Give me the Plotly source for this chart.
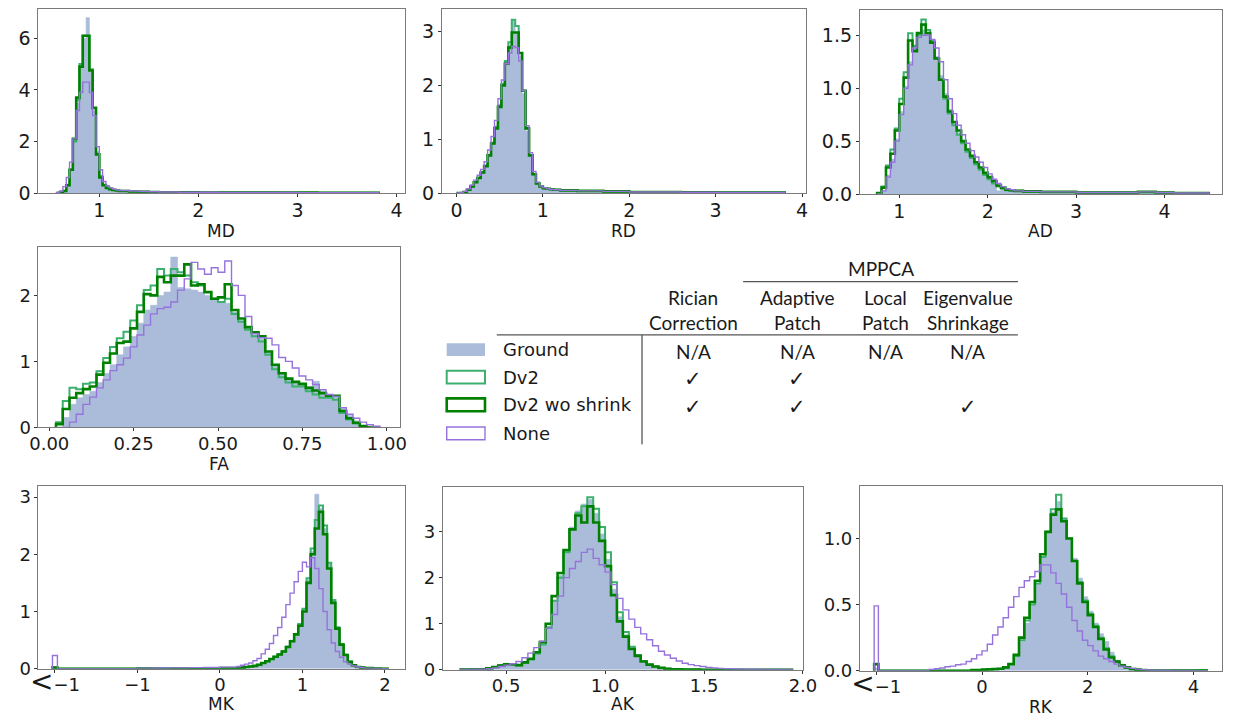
import plotly.graph_objects as go

# ---------------------------------------------------------------------------
# Histogram data (density).  Each panel has its own bin edges; every series
# list holds one density value per bin.
# ---------------------------------------------------------------------------
SERIES = ["Ground", "Dv2", "Dv2 wo shrink", "None"]

# ---- MD ----
md_edges = [0.567, 0.6, 0.633, 0.667, 0.7, 0.733, 0.767, 0.8, 0.833, 0.867, 0.9,
            0.933, 0.967, 1.0, 1.033, 1.067, 1.1, 1.133, 1.167, 1.2, 1.3, 1.4, 1.5,
            1.6, 1.8, 2.0, 2.2, 2.4, 2.6, 2.8, 3.0, 3.2, 3.4, 3.6, 3.82]
md_ground = [0, 0.03, 0.1, 0.35, 0.95, 2.0, 3.5, 4.9, 6.0, 6.8, 4.7, 3.2, 1.6, 0.7,
             0.35, 0.22, 0.16, 0.12, 0.1, 0.08, 0.06, 0.05, 0.04, 0.03, 0.03, 0.02,
             0.02, 0.02, 0.02, 0.015, 0.015, 0.01, 0.01, 0.01]
md_dv2 = [0, 0.02, 0.08, 0.3, 0.9, 2.0, 3.6, 5.0, 6.1, 6.1, 4.8, 3.3, 1.5, 0.65,
          0.32, 0.2, 0.15, 0.12, 0.1, 0.08, 0.06, 0.05, 0.04, 0.03, 0.03, 0.02,
          0.02, 0.02, 0.02, 0.015, 0.015, 0.01, 0.01, 0.01]
md_dv2_noshrink = [0, 0.02, 0.08, 0.3, 0.9, 2.1, 3.7, 4.9, 6.1, 6.1, 4.75, 3.3, 1.5,
                   0.6, 0.3, 0.2, 0.15, 0.12, 0.1, 0.08, 0.06, 0.05, 0.04, 0.03,
                   0.03, 0.02, 0.02, 0.02, 0.02, 0.015, 0.015, 0.01, 0.01, 0.01]
md_none = [0.02, 0.08, 0.25, 0.6, 1.2, 2.1, 3.2, 3.9, 4.3, 4.3, 3.9, 3.0, 1.8, 0.9,
           0.45, 0.28, 0.2, 0.15, 0.12, 0.1, 0.08, 0.06, 0.05, 0.04, 0.03, 0.03,
           0.02, 0.02, 0.02, 0.02, 0.015, 0.015, 0.01, 0.01]

# ---- RD ----
rd_edges = [0.0, 0.04, 0.08, 0.12, 0.16, 0.2, 0.24, 0.28, 0.32, 0.36, 0.4, 0.44,
            0.48, 0.52, 0.56, 0.6, 0.64, 0.68, 0.72, 0.76, 0.8, 0.84, 0.88, 0.92,
            0.96, 1.0, 1.04, 1.08, 1.12, 1.16, 1.2, 1.3, 1.4, 1.5, 1.6, 1.7, 1.8,
            1.9, 2.0, 2.2, 2.4, 2.6, 2.8, 3.0, 3.2, 3.4, 3.6, 3.8]
rd_ground = [0, 0, 0.02, 0.07, 0.14, 0.22, 0.3, 0.4, 0.52, 0.72, 0.95, 1.25, 1.65,
             2.05, 2.45, 2.75, 3.2, 3.0, 2.55, 1.85, 1.15, 0.68, 0.34, 0.17, 0.12,
             0.09, 0.08, 0.07, 0.06, 0.06,
             0.05, 0.05, 0.04, 0.04, 0.04, 0.03, 0.03, 0.03,
             0.02, 0.02, 0.02, 0.015, 0.015, 0.01, 0.01, 0.01, 0.01]
rd_dv2 = [0, 0, 0.02, 0.06, 0.12, 0.2, 0.28, 0.38, 0.5, 0.7, 0.93, 1.22, 1.62,
          2.02, 2.45, 2.8, 3.22, 3.1, 2.6, 1.9, 1.2, 0.7, 0.35, 0.18, 0.12, 0.09,
          0.08, 0.07, 0.06, 0.06,
          0.05, 0.05, 0.04, 0.04, 0.04, 0.03, 0.03, 0.03,
          0.02, 0.02, 0.02, 0.015, 0.015, 0.01, 0.01, 0.01, 0.01]
rd_dv2_noshrink = [0, 0, 0.02, 0.06, 0.12, 0.2, 0.28, 0.38, 0.5, 0.7, 0.92, 1.2,
                   1.6, 2.0, 2.4, 2.7, 2.98, 2.98, 2.6, 1.9, 1.2, 0.7, 0.35, 0.18,
                   0.12, 0.09, 0.08, 0.07, 0.06, 0.06,
                   0.05, 0.05, 0.04, 0.04, 0.04, 0.03, 0.03, 0.03,
                   0.02, 0.02, 0.02, 0.015, 0.015, 0.01, 0.01, 0.01, 0.01]
rd_none = [0, 0.01, 0.03, 0.08, 0.15, 0.24, 0.33, 0.44, 0.58, 0.8, 1.05, 1.35,
           1.75, 2.1, 2.4, 2.6, 2.72, 2.7, 2.45, 1.9, 1.25, 0.75, 0.4, 0.2, 0.13,
           0.1, 0.08, 0.07, 0.06, 0.06,
           0.05, 0.05, 0.04, 0.04, 0.04, 0.03, 0.03, 0.03,
           0.02, 0.02, 0.02, 0.015, 0.015, 0.01, 0.01, 0.01, 0.01]

# ---- AD ----
ad_edges = [0.75, 0.8, 0.85, 0.9, 0.95, 1.0, 1.05, 1.1, 1.15, 1.2, 1.25, 1.3, 1.35,
            1.4, 1.45, 1.5, 1.55, 1.6, 1.65, 1.7, 1.75, 1.8, 1.85, 1.9, 1.95, 2.0,
            2.05, 2.1, 2.15, 2.2, 2.25, 2.3, 2.4, 2.5, 2.6, 2.7, 2.8, 2.9, 3.0, 3.1,
            3.3, 3.5, 3.7, 3.9, 4.1, 4.3, 4.5]
ad_ground = [0.0, 0.03, 0.18, 0.33, 0.52, 0.78, 1.02, 1.25, 1.4, 1.5, 1.55, 1.5,
             1.42, 1.3, 1.12, 0.95, 0.8, 0.68, 0.58, 0.5, 0.42, 0.36, 0.3, 0.25,
             0.2, 0.15, 0.1, 0.03, 0.04, 0.03, 0.03,
             0.03, 0.025, 0.025, 0.02, 0.02, 0.02, 0.02, 0.015,
             0.015, 0.015, 0.015, 0.02, 0.015, 0.01, 0.01]
ad_dv2 = [0.01, 0.07, 0.27, 0.42, 0.62, 0.9, 1.15, 1.52, 1.4, 1.5, 1.65, 1.55,
          1.45, 1.28, 1.08, 0.9, 0.76, 0.65, 0.56, 0.48, 0.4, 0.34, 0.28, 0.23,
          0.18, 0.14, 0.1, 0.07, 0.05, 0.035, 0.03,
          0.03, 0.025, 0.025, 0.02, 0.02, 0.02, 0.02, 0.015,
          0.015, 0.015, 0.015, 0.02, 0.015, 0.01, 0.01]
ad_dv2_noshrink = [0.01, 0.06, 0.25, 0.38, 0.6, 0.85, 1.1, 1.45, 1.35, 1.52, 1.6,
                   1.52, 1.43, 1.28, 1.08, 0.92, 0.78, 0.68, 0.6, 0.5, 0.42, 0.36,
                   0.3, 0.25, 0.2, 0.16, 0.12, 0.08, 0.06, 0.04, 0.035,
                   0.03, 0.025, 0.025, 0.02, 0.02, 0.02, 0.02, 0.015,
                   0.015, 0.015, 0.015, 0.02, 0.015, 0.01, 0.01]
ad_none = [0.0, 0.03, 0.16, 0.3, 0.5, 0.75, 1.0, 1.22, 1.38, 1.48, 1.5, 1.5, 1.46,
           1.38, 1.25, 1.08, 0.9, 0.76, 0.65, 0.56, 0.48, 0.41, 0.35, 0.3, 0.25,
           0.19, 0.14, 0.1, 0.07, 0.05, 0.04,
           0.03, 0.025, 0.025, 0.02, 0.02, 0.02, 0.02, 0.015,
           0.015, 0.015, 0.015, 0.02, 0.015, 0.01, 0.01]

# ---- FA ----
fa_edges = [0.02, 0.04, 0.06, 0.08, 0.10, 0.12, 0.14, 0.16, 0.18, 0.20, 0.22, 0.24,
            0.26, 0.28, 0.30, 0.32, 0.34, 0.36, 0.38, 0.40, 0.42, 0.44, 0.46, 0.48,
            0.50, 0.52, 0.54, 0.56, 0.58, 0.60, 0.62, 0.64, 0.66, 0.68, 0.70, 0.72,
            0.74, 0.76, 0.78, 0.80, 0.82, 0.84, 0.86, 0.88, 0.90, 0.92, 0.94, 0.96,
            0.98]
fa_ground = [0.0, 0.15, 0.35, 0.45, 0.5, 0.55, 0.68, 0.82, 0.95, 1.1, 1.22, 1.38,
             1.58, 1.78, 1.85, 2.0, 2.05, 2.58, 2.12, 2.1, 2.08, 2.05, 2.0, 1.95,
             1.9, 1.88, 1.75, 1.62, 1.52, 1.4, 1.35, 1.15, 0.95, 0.82, 0.75, 0.7,
             0.66, 0.62, 0.7, 0.55, 0.5, 0.48, 0.3, 0.18, 0.1, 0.03, 0.0, 0.0]
fa_dv2 = [0.08, 0.4, 0.6, 0.58, 0.66, 0.68, 0.85, 1.05, 1.22, 1.35, 1.45, 1.62,
          1.85, 2.08, 2.15, 2.4, 2.3, 2.4, 2.35, 2.3, 2.2, 2.15, 2.05, 1.95, 1.9,
          1.95, 1.72, 1.6, 1.48, 1.38, 1.3, 1.1, 0.88, 0.76, 0.68, 0.62, 0.62, 0.55,
          0.5, 0.45, 0.45, 0.42, 0.22, 0.12, 0.06, 0.02, 0.0, 0.0]
fa_dv2_noshrink = [0.05, 0.28, 0.45, 0.52, 0.58, 0.62, 0.8, 0.98, 1.12, 1.28, 1.3,
                   1.5, 1.75, 2.02, 2.0, 2.28, 2.2, 2.3, 2.3, 2.47, 2.15, 2.17, 2.05,
                   1.95, 1.97, 2.17, 1.78, 1.65, 1.52, 1.44, 1.38, 1.15, 0.95, 0.82,
                   0.74, 0.69, 0.66, 0.6, 0.56, 0.52, 0.48, 0.48, 0.25, 0.14, 0.07,
                   0.02, 0.0, 0.0]
fa_none = [0.0, 0.0, 0.08, 0.2, 0.35, 0.46, 0.6, 0.72, 0.86, 0.95, 1.05, 1.22, 1.4,
           1.55, 1.72, 1.8, 1.82, 1.9, 2.08, 2.25, 2.5, 2.4, 2.32, 2.42, 2.35, 2.52,
           2.15, 2.0, 1.68, 1.42, 1.36, 1.35, 1.25, 1.06, 1.0, 0.9, 0.78, 0.72,
           0.65, 0.57, 0.5, 0.47, 0.3, 0.2, 0.14, 0.08, 0.04, 0.02]

# ---- MK (values below -1 are gathered into one bin drawn at -2) ----
mk_edges = [-2.03, -1.97, -1.0, -0.8, -0.6, -0.4, -0.2, 0.0, 0.2, 0.25, 0.3, 0.35,
            0.4, 0.45, 0.5, 0.55, 0.6, 0.65, 0.7, 0.75, 0.8, 0.85, 0.9, 0.95, 1.0,
            1.05, 1.1, 1.15, 1.2, 1.25, 1.3, 1.35, 1.4, 1.45, 1.5, 1.55, 1.6, 1.65,
            1.7, 1.75, 1.8, 1.85, 1.9, 1.95, 2.0, 2.05]
mk_ground = [0.0, 0.0, 0.005, 0.005, 0.005, 0.008, 0.008, 0.01,
             0.01, 0.02, 0.03, 0.04, 0.05, 0.07, 0.1, 0.13, 0.17, 0.21, 0.26, 0.31,
             0.4, 0.5, 0.62, 0.78, 1.05, 1.55, 2.05, 3.05, 2.8, 2.45, 1.85, 1.2,
             0.74, 0.45, 0.26, 0.13, 0.07, 0.04, 0.02, 0.01, 0.01, 0.005, 0.005,
             0.0, 0.0]
mk_dv2 = [0.02, 0.0, 0.005, 0.005, 0.005, 0.008, 0.008, 0.01,
          0.01, 0.02, 0.03, 0.04, 0.05, 0.07, 0.1, 0.13, 0.17, 0.21, 0.25, 0.3,
          0.38, 0.48, 0.6, 0.78, 1.05, 1.58, 2.1, 2.6, 2.85, 2.5, 1.85, 1.2, 0.72,
          0.43, 0.24, 0.12, 0.06, 0.03, 0.02, 0.01, 0.01, 0.005, 0.005, 0.0, 0.0]
mk_dv2_noshrink = [0.02, 0.0, 0.005, 0.005, 0.005, 0.008, 0.008, 0.01,
                   0.01, 0.02, 0.03, 0.04, 0.05, 0.07, 0.1, 0.13, 0.17, 0.21, 0.25,
                   0.3, 0.38, 0.48, 0.6, 0.75, 1.0, 1.5, 2.0, 2.45, 2.74, 2.35,
                   1.75, 1.15, 0.7, 0.42, 0.24, 0.12, 0.06, 0.03, 0.02, 0.01, 0.01,
                   0.005, 0.005, 0.0, 0.0]
mk_none = [0.23, 0.0, 0.01, 0.012, 0.015, 0.02, 0.022, 0.028,
           0.04, 0.06, 0.08, 0.1, 0.14, 0.18, 0.26, 0.34, 0.44, 0.58, 0.72, 0.9,
           1.12, 1.32, 1.52, 1.7, 1.86, 1.78, 1.94, 1.75, 1.4, 1.0, 0.68, 0.45,
           0.3, 0.2, 0.12, 0.08, 0.05, 0.03, 0.02, 0.01, 0.01, 0.005, 0.005, 0.0,
           0.0]

# ---- AK ----
ak_edges = [0.27, 0.33, 0.4, 0.43, 0.46, 0.49, 0.52, 0.55, 0.58, 0.61, 0.64, 0.67,
            0.7, 0.73, 0.76, 0.79, 0.82, 0.85, 0.88, 0.91, 0.94, 0.97, 1.0, 1.03,
            1.06, 1.09, 1.12, 1.15, 1.18, 1.21, 1.24, 1.27, 1.3, 1.33, 1.36, 1.39,
            1.42, 1.45, 1.48, 1.51, 1.54, 1.57, 1.6, 1.65, 1.7, 1.75, 1.8, 1.85,
            1.9, 1.95]
ak_ground = [0.005, 0.01,
             0.02, 0.05, 0.08, 0.1, 0.1, 0.1, 0.14, 0.22, 0.34, 0.55, 0.95, 1.5,
             2.05, 2.6, 3.1, 3.45, 3.6, 3.7, 3.4, 2.95, 2.4, 1.75, 1.15, 0.76, 0.47,
             0.3, 0.18, 0.1, 0.06, 0.04, 0.02, 0.01, 0.01, 0.005, 0.005, 0, 0, 0,
             0, 0,
             0, 0, 0, 0, 0, 0, 0]
ak_dv2 = [0.005, 0.01,
          0.03, 0.06, 0.1, 0.12, 0.11, 0.1, 0.15, 0.22, 0.35, 0.55, 0.92, 1.5, 2.0,
          2.55, 3.05, 3.4, 3.55, 3.75, 3.5, 3.1, 2.55, 1.9, 1.25, 0.82, 0.5, 0.32,
          0.19, 0.11, 0.07, 0.04, 0.02, 0.01, 0.01, 0.005, 0.005, 0.005, 0, 0, 0,
          0,
          0.005, 0, 0, 0, 0, 0, 0]
ak_dv2_noshrink = [0.005, 0.01,
                   0.03, 0.06, 0.09, 0.12, 0.12, 0.1, 0.16, 0.24, 0.38, 0.6, 1.0,
                   1.6, 2.1, 2.6, 3.05, 3.35, 3.2, 3.55, 3.2, 2.8, 2.25, 1.62, 1.05,
                   0.72, 0.45, 0.3, 0.18, 0.11, 0.07, 0.04, 0.02, 0.01, 0.01,
                   0.005, 0.005, 0.005, 0, 0, 0, 0,
                   0.005, 0, 0, 0, 0, 0, 0]
ak_none = [0.005, 0.01,
           0.02, 0.04, 0.07, 0.1, 0.13, 0.18, 0.26, 0.36, 0.48, 0.62, 0.9, 1.2,
           1.6, 2.0, 2.2, 2.35, 2.55, 2.62, 2.42, 2.28, 2.12, 1.85, 1.55, 1.3, 1.1,
           0.92, 0.78, 0.65, 0.52, 0.4, 0.32, 0.25, 0.19, 0.14, 0.11, 0.09, 0.07,
           0.05, 0.04, 0.03,
           0.02, 0.015, 0.01, 0.01, 0.005, 0.005, 0.005]

# ---- RK (values below -1 are gathered into one bin drawn at -2) ----
rk_edges = [-2.04, -1.96, -1.0, -0.9, -0.8, -0.7, -0.6, -0.5, -0.4, -0.3, -0.2,
            -0.1, 0.0, 0.1, 0.2, 0.3, 0.4, 0.5, 0.6, 0.7, 0.8, 0.9, 1.0, 1.1, 1.2,
            1.3, 1.4, 1.5, 1.6, 1.7, 1.8, 1.9, 2.0, 2.1, 2.2, 2.3, 2.4, 2.5, 2.6,
            2.7, 2.8, 2.9, 3.0, 3.1, 3.2, 3.6, 4.0, 4.25]
rk_ground = [0.02, 0.0,
             0, 0, 0, 0, 0, 0, 0, 0, 0, 0, 0.005, 0.008, 0.01, 0.015, 0.02, 0.04,
             0.1, 0.22, 0.36, 0.5, 0.66, 0.86, 1.05, 1.2, 1.28, 1.15, 1.0, 0.85,
             0.7, 0.56, 0.45, 0.36, 0.28, 0.22, 0.14, 0.08, 0.05, 0.03, 0.015,
             0.01, 0.005, 0.003,
             0.002, 0.002, 0.001]
rk_dv2 = [0.05, 0.0,
          0, 0, 0, 0, 0, 0, 0, 0, 0.005, 0.005, 0.008, 0.01, 0.012, 0.015, 0.025,
          0.05, 0.11, 0.23, 0.38, 0.5, 0.66, 0.86, 1.05, 1.22, 1.33, 1.15, 1.0,
          0.83, 0.67, 0.53, 0.43, 0.34, 0.25, 0.17, 0.11, 0.07, 0.04, 0.025,
          0.012, 0.008, 0.005, 0.003,
          0.002, 0.001, 0.001]
rk_dv2_noshrink = [0.05, 0.0,
                   0, 0, 0, 0, 0, 0, 0, 0, 0.005, 0.005, 0.008, 0.01, 0.012,
                   0.015, 0.025, 0.05, 0.12, 0.25, 0.4, 0.52, 0.68, 0.88, 1.05,
                   1.18, 1.22, 1.13, 1.0, 0.83, 0.66, 0.52, 0.42, 0.33, 0.24, 0.16,
                   0.1, 0.07, 0.04, 0.025, 0.012, 0.008, 0.005, 0.003,
                   0.002, 0.001, 0.001]
rk_none = [0.49, 0.0,
           0.01, 0.015, 0.02, 0.03, 0.035, 0.045, 0.05, 0.07, 0.09, 0.12, 0.15,
           0.2, 0.27, 0.33, 0.4, 0.48, 0.56, 0.63, 0.68, 0.71, 0.75, 0.8, 0.8,
           0.74, 0.66, 0.58, 0.48, 0.38, 0.3, 0.23, 0.19, 0.15, 0.11, 0.09, 0.07,
           0.05, 0.035, 0.025, 0.018, 0.012, 0.008, 0.005,
           0.003, 0.002, 0.001]

# ---- tick labels ----
md_xticks, md_xlabels = [1, 2, 3, 4], ["1", "2", "3", "4"]
md_yticks, md_ylabels = [0, 2, 4, 6], ["0", "2", "4", "6"]
rd_xticks, rd_xlabels = [0, 1, 2, 3, 4], ["0", "1", "2", "3", "4"]
rd_yticks, rd_ylabels = [0, 1, 2, 3], ["0", "1", "2", "3"]
ad_xticks, ad_xlabels = [1, 2, 3, 4], ["1", "2", "3", "4"]
ad_yticks, ad_ylabels = [0, 0.5, 1.0, 1.5], ["0.0", "0.5", "1.0", "1.5"]
fa_xticks, fa_xlabels = [0, 0.25, 0.5, 0.75, 1.0], ["0.00", "0.25", "0.50", "0.75", "1.00"]
fa_yticks, fa_ylabels = [0, 1, 2], ["0", "1", "2"]
LESS_THAN_MINUS_ONE = '<span style="font-size:28px">&lt;</span>\u22121'
mk_xticks, mk_xlabels = [-2, -1, 0, 1, 2], [LESS_THAN_MINUS_ONE, "\u22121", "0", "1", "2"]
mk_yticks, mk_ylabels = [0, 1, 2, 3], ["0", "1", "2", "3"]
ak_xticks, ak_xlabels = [0.5, 1.0, 1.5, 2.0], ["0.5", "1.0", "1.5", "2.0"]
ak_yticks, ak_ylabels = [0, 1, 2, 3], ["0", "1", "2", "3"]
rk_xticks, rk_xlabels = [-2, 0, 2, 4], [LESS_THAN_MINUS_ONE, "0", "2", "4"]
rk_yticks, rk_ylabels = [0, 0.5, 1.0], ["0.0", "0.5", "1.0"]

# ---- legend / method table ----
method_columns = [("Rician", "Correction"), ("Adaptive", "Patch"),
                  ("Local", "Patch"), ("Eigenvalue", "Shrinkage")]
method_group = "MPPCA"
method_marks = {
    "Ground": ["N/A", "N/A", "N/A", "N/A"],
    "Dv2": ["\u2713", "\u2713", "", ""],
    "Dv2 wo shrink": ["\u2713", "\u2713", "", "\u2713"],
    "None": ["", "", "", ""],
}

# ---------------------------------------------------------------------------
# Figure
# ---------------------------------------------------------------------------
W, H = 1238, 728
GROUND_FILL = "rgb(170,188,217)"
STYLES = {
    "Dv2": dict(color="rgb(60,176,110)", width=2.0),
    "Dv2 wo shrink": dict(color="rgb(0,128,0)", width=2.6),
    "None": dict(color="rgb(150,115,220)", width=1.4),
}
TEXT = "#1a1a1a"
FONT = "DejaVu Sans"
TABLE_FONT = "Lato"


def px(x):
    return x / W


def py(y):
    return 1 - y / H


def step_xy(edges, vals):
    if len(edges) != len(vals) + 1:
        raise ValueError("bin count mismatch")
    xs = [edges[0]] + list(edges[:-1]) + [edges[-1]]
    ys = [0] + list(vals) + [0]
    return xs, ys


panels = [
    dict(name="MD", edges=md_edges, data=[md_ground, md_dv2, md_dv2_noshrink, md_none],
         box=(30, 9, 403, 196), xr=[0.386, 4.08], yr=[0, 7.14],
         xt=(md_xticks, md_xlabels), yt=(md_yticks, md_ylabels), ty=235, fs=19),
    dict(name="RD", edges=rd_edges, data=[rd_ground, rd_dv2, rd_dv2_noshrink, rd_none],
         box=(441, 9, 812, 196), xr=[-0.17, 4.045], yr=[0, 3.42],
         xt=(rd_xticks, rd_xlabels), yt=(rd_yticks, rd_ylabels), ty=235, fs=19),
    dict(name="AD", edges=ad_edges, data=[ad_ground, ad_dv2, ad_dv2_noshrink, ad_none],
         box=(867, 10, 1236, 197), xr=[0.555, 4.65], yr=[0, 1.74],
         xt=(ad_xticks, ad_xlabels), yt=(ad_yticks, ad_ylabels), ty=235, fs=19),
    dict(name="FA", edges=fa_edges, data=[fa_ground, fa_dv2, fa_dv2_noshrink, fa_none],
         box=(30, 251, 398, 434), xr=[-0.032, 1.038], yr=[0, 2.73],
         xt=(fa_xticks, fa_xlabels), yt=(fa_yticks, fa_ylabels), ty=471, fs=18),
    dict(name="MK", edges=mk_edges, data=[mk_ground, mk_dv2, mk_dv2_noshrink, mk_none],
         box=(30, 493, 404, 679), xr=[-2.2, 2.25], yr=[0, 3.2],
         xt=(mk_xticks, mk_xlabels), yt=(mk_yticks, mk_ylabels), ty=715, fs=18),
    dict(name="AK", edges=ak_edges, data=[ak_ground, ak_dv2, ak_dv2_noshrink, ak_none],
         box=(442, 494, 809, 680), xr=[0.18, 2.0], yr=[0, 3.98],
         xt=(ak_xticks, ak_xlabels), yt=(ak_yticks, ak_ylabels), ty=715, fs=18),
    dict(name="RK", edges=rk_edges, data=[rk_ground, rk_dv2, rk_dv2_noshrink, rk_none],
         box=(867, 493, 1236, 681), xr=[-2.31, 4.54], yr=[0, 1.40],
         xt=(rk_xticks, rk_xlabels), yt=(rk_yticks, rk_ylabels), ty=718, fs=18),
]

fig = go.Figure()
layout_axes = {}
annotations = []

for i, p in enumerate(panels, start=1):
    xa = "x" if i == 1 else f"x{i}"
    ya = "y" if i == 1 else f"y{i}"
    for label, vals in zip(SERIES, p["data"]):
        xs, ys = step_xy(p["edges"], vals)
        if label == "Ground":
            fig.add_trace(go.Scatter(
                x=xs, y=ys, mode="lines", line=dict(shape="hv", width=0.6, color=GROUND_FILL),
                fill="tozeroy", fillcolor=GROUND_FILL, name=label, showlegend=False,
                xaxis=xa, yaxis=ya, hoverinfo="skip"))
        else:
            st = STYLES[label]
            fig.add_trace(go.Scatter(
                x=xs, y=ys, mode="lines",
                line=dict(shape="hv", width=st["width"], color=st["color"]),
                name=label, showlegend=False, xaxis=xa, yaxis=ya, hoverinfo="skip"))

    x0, y0, x1, y1 = p["box"]
    axis_common = dict(showline=True, mirror=True, linecolor="#7a7a7a", linewidth=1,
                       showgrid=False, zeroline=False, ticks="outside", ticklen=3,
                       tickcolor="#333", tickfont=dict(family=FONT, size=p["fs"], color=TEXT))
    layout_axes["xaxis" if i == 1 else f"xaxis{i}"] = dict(
        domain=[px(x0), px(x1)], range=p["xr"], anchor=ya, ticklabelstandoff=-3,
        tickmode="array", tickvals=p["xt"][0], ticktext=p["xt"][1], **axis_common)
    layout_axes["yaxis" if i == 1 else f"yaxis{i}"] = dict(
        domain=[py(y1), py(y0)], range=p["yr"], anchor=xa,
        tickmode="array", tickvals=p["yt"][0], ticktext=p["yt"][1], **axis_common)
    annotations.append(dict(
        text=p["name"], x=px((x0 + x1) / 2), y=py(p["ty"]), xref="paper", yref="paper",
        xanchor="center", yanchor="middle", showarrow=False,
        font=dict(family=FONT, size=17, color=TEXT)))

# ---- legend swatches + method table ----
shapes = []
row_y = {"Ground": 355, "Dv2": 383, "Dv2 wo shrink": 411, "None": 440}
col_x = [697, 803, 893, 977]
sw_x0, sw_x1, sw_h = 446, 485, 13

for label in SERIES:
    yc = row_y[label]
    if label == "Ground":
        shapes.append(dict(type="rect", xref="paper", yref="paper",
                           x0=px(sw_x0), x1=px(sw_x1), y0=py(yc + sw_h / 2), y1=py(yc - sw_h / 2),
                           fillcolor=GROUND_FILL, line=dict(width=0)))
    else:
        st = STYLES[label]
        shapes.append(dict(type="rect", xref="paper", yref="paper",
                           x0=px(sw_x0), x1=px(sw_x1), y0=py(yc + sw_h / 2), y1=py(yc - sw_h / 2),
                           fillcolor="rgba(0,0,0,0)", line=dict(width=st["width"], color=st["color"])))
    annotations.append(dict(text=label, x=px(501), y=py(yc), xref="paper", yref="paper",
                            xanchor="left", yanchor="middle", showarrow=False,
                            font=dict(family=FONT, size=18, color=TEXT)))
    for cx, mark in zip(col_x, method_marks[label]):
        if mark:
            is_check = mark == "\u2713"
            annotations.append(dict(text=mark, x=px(cx), y=py(yc + 2), xref="paper", yref="paper",
                                    xanchor="center", yanchor="middle", showarrow=False,
                                    font=dict(family=FONT if is_check else TABLE_FONT,
                                              size=21 if is_check else 19, color=TEXT)))

for cx, (top, bottom) in zip(col_x, method_columns):
    for txt, yy in ((top, 302), (bottom, 327)):
        annotations.append(dict(text=txt, x=px(cx), y=py(yy), xref="paper", yref="paper",
                                xanchor="center", yanchor="middle", showarrow=False,
                                font=dict(family=TABLE_FONT, size=19, color=TEXT)))
annotations.append(dict(text=method_group, x=px(888), y=py(273), xref="paper", yref="paper",
                        xanchor="center", yanchor="middle", showarrow=False,
                        font=dict(family=TABLE_FONT, size=19, color=TEXT)))

line_style = dict(color="#555", width=1.3)
shapes.append(dict(type="line", xref="paper", yref="paper",
                   x0=px(748), x1=px(1028), y0=py(286), y1=py(286), line=line_style))
shapes.append(dict(type="line", xref="paper", yref="paper",
                   x0=px(497), x1=px(1028), y0=py(340), y1=py(340), line=line_style))
shapes.append(dict(type="line", xref="paper", yref="paper",
                   x0=px(645), x1=px(645), y0=py(340), y1=py(451), line=line_style))

fig.update_layout(
    width=W, height=H, margin=dict(l=0, r=0, t=0, b=0),
    paper_bgcolor="white", plot_bgcolor="white",
    showlegend=False, annotations=annotations, shapes=shapes,
    font=dict(family=FONT, color=TEXT),
    **layout_axes)

fig.write_html("out.html")
